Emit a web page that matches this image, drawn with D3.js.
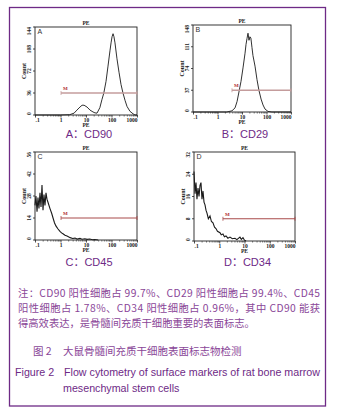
<!DOCTYPE html>
<html>
<head>
<meta charset="utf-8">
<script src="https://cdn.jsdelivr.net/npm/d3@7"></script>
<style>
  body { margin: 0; background: #fff; }
</style>
</head>
<body>
<div id="fig"></div>
<script>
// values
var panelLetters = ["A", "B", "C", "D"];
var panelCaptions = ["A\uFF1ACD90", "B\uFF1ACD29", "C\uFF1ACD45", "D\uFF1ACD34"];
var xTicks = [0.1, 1, 10, 100, 1000];
var xTickLabels = [".1", "1", "10", "100", "1000"];

var yTicksA = [0, 36, 72, 108, 144];
var yTicksB = [0, 37, 74, 111, 148];
var yTicksC = [0, 14, 28, 42, 56];
var yTicksD = [0, 8, 16, 24, 32];

// CD90
var cd90PE    = [0.1, 1, 2.3, 3.4, 4.4, 5.8, 7, 8.4, 11, 14.4, 18.8, 22.5, 27, 35, 42, 50, 61, 73, 87, 96, 105, 115, 125, 137, 164, 197, 236, 282, 339, 406, 530, 697, 833, 1000];
var cd90Count = [0, 0, 0.5, 3, 8, 13, 16, 16, 13, 8, 5, 3.5, 3, 12, 25, 36, 55, 80, 105, 118, 128, 133, 128, 118, 92, 70, 50, 36, 24, 14, 6, 2, 0, 0];
// CD29
var cd29PE    = [0.1, 2.4, 3.9, 5.2, 6.3, 7.5, 9.1, 11, 13.3, 14.6, 16, 17.6, 19.3, 21, 23, 25.5, 28, 34, 41, 49, 60, 72, 87, 115, 166, 1000];
var cd29Count = [0, 0, 2, 7, 18, 34, 52, 75, 100, 115, 125, 134, 122, 128, 126, 110, 96, 78, 55, 37, 22, 12, 5, 1, 0, 0];
// CD45
var cd45PE    = [0.1, 0.109, 0.12, 0.131, 0.143, 0.157, 0.172, 0.188, 0.206, 0.225, 0.246, 0.27, 0.295, 0.323, 0.387, 0.45, 0.51, 0.58, 0.66, 0.8, 0.955, 1.1, 1.25, 1.5, 1.8, 2.4, 3, 3.7, 4.5, 5.8, 7, 9, 11, 14, 18, 22, 30];
var cd45Count = [22, 28, 18, 27, 20, 30, 21, 35, 19, 29, 22, 30, 26, 24, 20, 17, 14, 11, 9, 7, 5.5, 4.5, 4, 3, 2.5, 1.5, 1, 1.2, 0.6, 1, 0.5, 0.8, 0.4, 0.6, 0.2, 0.3, 0];
// CD34
var cd34PE    = [0.1, 0.11, 0.12, 0.131, 0.144, 0.158, 0.173, 0.189, 0.207, 0.227, 0.249, 0.273, 0.3, 0.327, 0.37, 0.43, 0.49, 0.565, 0.65, 0.74, 0.85, 1.07, 1.2, 1.4, 1.6, 1.85, 2.2, 2.66, 3.3, 4.2, 5, 6.6, 7.5, 8.7, 10, 11.5];
var cd34Count = [25, 17, 21, 15, 19, 16, 20, 21, 15, 18, 14, 13, 11, 10, 8, 9, 7, 6.5, 5, 4.5, 3.5, 3, 2.2, 2.5, 1.5, 1.8, 1, 1.4, 0.8, 1, 0.5, 1.4, 0.6, 1.2, 0.3, 0];

// marker M1: start (PE) and height (count); runs to the right edge
var markerStart = [1.05, 3.9, 1.05, 1.4];
var markerLevel = [36, 37, 14, 8];

var notesLines = [
  "\u6CE8\uFF1ACD90 \u9633\u6027\u7EC6\u80DE\u5360 99.7%\u3001CD29 \u9633\u6027\u7EC6\u80DE\u5360 99.4%\u3001CD45",
  "\u9633\u6027\u7EC6\u80DE\u5360 1.78%\u3001CD34 \u9633\u6027\u7EC6\u80DE\u5360 0.96%\uFF0C\u5176\u4E2D CD90 \u80FD\u83B7",
  "\u5F97\u9AD8\u6548\u8868\u8FBE\uFF0C\u662F\u9AA8\u9AD3\u95F4\u5145\u8D28\u5E72\u7EC6\u80DE\u91CD\u8981\u7684\u8868\u9762\u6807\u5FD7\u3002"
];
var captionCn = "\u5927\u9F20\u9AA8\u9AD3\u95F4\u5145\u8D28\u5E72\u7EC6\u80DE\u8868\u9762\u6807\u5FD7\u7269\u68C0\u6D4B";
var captionEn1 = "Flow cytometry of surface markers of rat bone marrow";
var captionEn2 = "mesenchymal stem cells";

// layout
var purple = "#6e2a86";
var textPurple = "#8a4698";

var panels = [
  { box: { x: 35,  y: 27,  w: 102, h: 88 }, yTicks: yTicksA, pe: cd90PE, count: cd90Count, mColor: "#c49c9c", mWidth: 1.6, capY: 138 },
  { box: { x: 193, y: 25,  w: 98,  h: 87 }, yTicks: yTicksB, pe: cd29PE, count: cd29Count, mColor: "#c49c9c", mWidth: 1.6, capY: 138 },
  { box: { x: 35,  y: 152, w: 102, h: 88 }, yTicks: yTicksC, pe: cd45PE, count: cd45Count, mColor: "#a84a4a", mWidth: 1,   capY: 266 },
  { box: { x: 194, y: 152, w: 101, h: 89 }, yTicks: yTicksD, pe: cd34PE, count: cd34Count, mColor: "#a84a4a", mWidth: 1,   capY: 266 }
];

var svg = d3.select("#fig").append("svg")
  .attr("width", 337)
  .attr("height", 413);

svg.append("rect")
  .attr("width", 337).attr("height", 413).attr("fill", "#fff");

// outer frame
svg.append("rect")
  .attr("x", 9.5).attr("y", 7.5)
  .attr("width", 316).attr("height", 398.5)
  .attr("fill", "none")
  .attr("stroke", purple)
  .attr("stroke-width", 1.3);

var axisFont = "'Liberation Serif', 'DejaVu Serif', serif";

panels.forEach(function(p, i) {
  var b = p.box;
  var yTicks = p.yTicks;
  var x = d3.scaleLog().domain([0.1, 1000]).range([b.x, b.x + b.w]);
  var y = d3.scaleLinear().domain([0, yTicks[yTicks.length - 1]]).range([b.y + b.h, b.y]);

  var g = svg.append("g");

  // minor + major x ticks
  var minor = [];
  xTicks.slice(0, -1).forEach(function(d) {
    for (var k = 2; k < 10; k++) minor.push(d * k);
  });
  g.append("g")
    .attr("transform", "translate(0," + (b.y + b.h) + ")")
    .call(d3.axisBottom(x).tickValues(minor).tickSize(1.6).tickFormat(""))
    .call(function(s) { s.select(".domain").remove(); })
    .selectAll("line").attr("stroke", "#333").attr("stroke-width", 0.6);

  var xAxis = g.append("g")
    .attr("transform", "translate(0," + (b.y + b.h) + ")")
    .call(d3.axisBottom(x).tickValues(xTicks).tickSize(2.5).tickPadding(0.5)
      .tickFormat(function(d, j) { return xTickLabels[j]; }));
  xAxis.select(".domain").remove();
  xAxis.selectAll("line").attr("stroke", "#222").attr("stroke-width", 0.8);
  xAxis.selectAll("text")
    .attr("font-family", axisFont)
    .attr("font-size", 5.5)
    .attr("font-weight", "bold")
    .attr("fill", "#222")
    .attr("text-anchor", function(d, j) { return j === 0 ? "start" : (j === xTicks.length - 1 ? "end" : "middle"); });

  var yAxis = g.append("g")
    .attr("transform", "translate(" + b.x + ",0)")
    .call(d3.axisLeft(y).tickValues(yTicks).tickSize(2).tickPadding(1));
  yAxis.select(".domain").remove();
  yAxis.selectAll("line").attr("stroke", "#222").attr("stroke-width", 0.8);
  yAxis.selectAll("text")
    .attr("font-family", axisFont)
    .attr("font-size", 5.5)
    .attr("font-weight", "bold")
    .attr("fill", "#222")
    .attr("text-anchor", function(d, j) { return j === yTicks.length - 1 ? "end" : (j === 0 ? "start" : "middle"); })
    .attr("dy", 0)
    .attr("x", 0)
    .attr("transform", function(d) { return "translate(-4," + y(d) + ") rotate(-90)"; })
    .attr("y", 0);
  yAxis.selectAll(".tick").attr("transform", null);
  yAxis.selectAll(".tick line").attr("transform", function(d) { return "translate(0," + y(d) + ")"; });

  // the curve
  var pts = p.pe.map(function(v, j) { return [v, p.count[j]]; });
  g.append("path")
    .datum(pts)
    .attr("fill", "none")
    .attr("stroke", "#1a1a1a")
    .attr("stroke-width", i < 2 ? 0.9 : 1.1)
    .attr("d", d3.line()
      .x(function(d) { return x(d[0]); })
      .y(function(d) { return y(d[1]); }));

  // frame of the plot
  g.append("rect")
    .attr("x", b.x).attr("y", b.y)
    .attr("width", b.w).attr("height", b.h)
    .attr("fill", "none")
    .attr("stroke", "#222")
    .attr("stroke-width", 0.9);

  // marker
  var mx0 = x(markerStart[i]);
  var mx1 = x(1000);
  var my = y(markerLevel[i]);
  g.append("line")
    .attr("x1", mx0).attr("x2", mx1).attr("y1", my).attr("y2", my)
    .attr("stroke", p.mColor).attr("stroke-width", p.mWidth);
  [mx0, mx1].forEach(function(mx) {
    g.append("line")
      .attr("x1", mx).attr("x2", mx).attr("y1", my - 2).attr("y2", my + 2)
      .attr("stroke", p.mColor).attr("stroke-width", 0.8);
  });
  g.append("text")
    .attr("x", mx0 + 2).attr("y", my - 3)
    .attr("font-family", axisFont)
    .attr("font-size", 5)
    .attr("font-weight", "bold")
    .attr("fill", "#b03030")
    .text("M");

  // labels
  g.append("text")
    .attr("x", b.x + b.w / 2).attr("y", b.y - 2)
    .attr("text-anchor", "middle")
    .attr("font-family", axisFont).attr("font-size", 5.5).attr("font-weight", "bold")
    .attr("fill", "#222")
    .text("PE");
  g.append("text")
    .attr("x", b.x + b.w / 2).attr("y", b.y + b.h + 11.5)
    .attr("text-anchor", "middle")
    .attr("font-family", axisFont).attr("font-size", 5.5).attr("font-weight", "bold")
    .attr("fill", "#222")
    .text("PE");
  g.append("text")
    .attr("transform", "translate(" + (b.x - 9) + "," + (b.y + b.h / 2) + ") rotate(-90)")
    .attr("text-anchor", "middle")
    .attr("font-family", axisFont).attr("font-size", 6).attr("font-weight", "bold")
    .attr("fill", "#222")
    .text("Count");
  g.append("text")
    .attr("x", b.x + 2.5).attr("y", b.y + 7)
    .attr("font-family", "'Liberation Sans', Arial, sans-serif").attr("font-size", 7)
    .attr("fill", "#333")
    .text(panelLetters[i]);

  g.append("text")
    .attr("x", b.x + b.w / 2 + 3).attr("y", p.capY)
    .attr("text-anchor", "middle")
    .attr("font-family", "'Liberation Sans', 'Noto Sans CJK SC', sans-serif")
    .attr("font-size", 11)
    .attr("fill", purple)
    .text(panelCaptions[i]);
});

// notes
var cnFont = "'Noto Sans CJK SC', sans-serif";
var noteBase = [297, 312, 327];
notesLines.forEach(function(t, j) {
  var tx = svg.append("text")
    .attr("x", 18).attr("y", noteBase[j])
    .attr("font-family", cnFont)
    .attr("font-size", 10.3)
    .attr("fill", textPurple)
    .text(t);
  if (j < 2) tx.attr("textLength", 302).attr("lengthAdjust", "spacing");
});

svg.append("text")
  .attr("x", 33).attr("y", 355)
  .attr("font-family", cnFont).attr("font-size", 10.5)
  .attr("fill", textPurple)
  .text("\u56FE 2");
svg.append("text")
  .attr("x", 63).attr("y", 355)
  .attr("font-family", cnFont).attr("font-size", 10.5)
  .attr("fill", textPurple)
  .text(captionCn);

var enFont = "'Liberation Sans', Arial, sans-serif";
svg.append("text")
  .attr("x", 15).attr("y", 376)
  .attr("font-family", enFont).attr("font-size", 10.7)
  .attr("fill", purple)
  .text("Figure 2");
svg.append("text")
  .attr("x", 64).attr("y", 376)
  .attr("font-family", enFont).attr("font-size", 10.7)
  .attr("fill", purple)
  .text(captionEn1);
svg.append("text")
  .attr("x", 63).attr("y", 392)
  .attr("font-family", enFont).attr("font-size", 10.7)
  .attr("fill", purple)
  .text(captionEn2);
</script>
</body>
</html>
